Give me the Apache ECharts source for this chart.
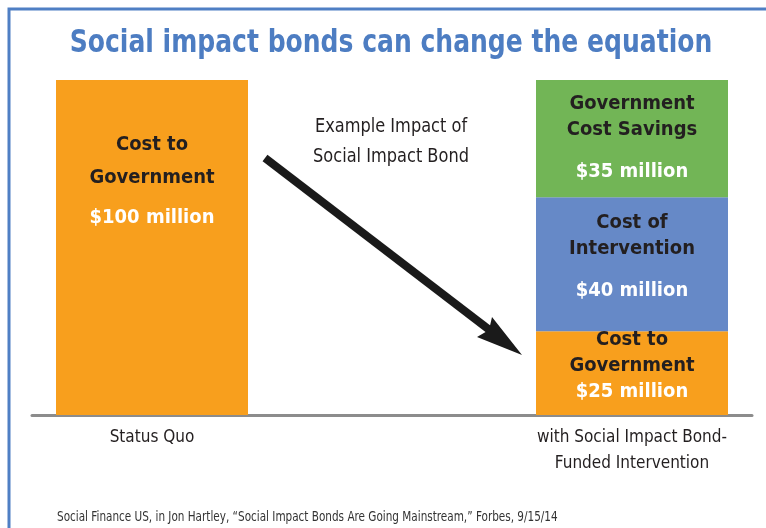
<!DOCTYPE html>
<html>
<head>
<meta charset="utf-8">
<script src="https://cdn.jsdelivr.net/npm/echarts@6/dist/echarts.min.js"></script>
<style>
html,body{margin:0;padding:0;background:#fff;}
#main{width:766px;height:528px;}
</style>
</head>
<body>
<div id="main"></div>
<script>
// ---- data ----
var categories = ['Status Quo', '', 'with Social Impact Bond-\nFunded Intervention'];
var costToGovernment = [100, '-', 25];
var costOfIntervention = ['-', '-', 40];
var governmentSavings = ['-', '-', 35];
var titleText = 'Social impact bonds can change the equation';
var arrowText = 'Example Impact of\nSocial Impact Bond';
var sourceText = 'Social Finance US, in Jon Hartley, \u201cSocial Impact Bonds Are Going Mainstream,\u201d Forbes, 9/15/14';

var FONT = '"DejaVu Sans Condensed", "Liberation Sans Narrow", "Liberation Sans", sans-serif';
var DARK = '#231f20';

var rich = {
  a: {fontFamily: FONT, fontWeight: 'bold', fontSize: 20, color: DARK, lineHeight: 26, align: 'center'},
  aw: {fontFamily: FONT, fontWeight: 'bold', fontSize: 20, color: DARK, lineHeight: 33, align: 'center'},
  v: {fontFamily: FONT, fontWeight: 'bold', fontSize: 20, color: '#ffffff', lineHeight: 26, align: 'center'},
  vBig: {fontFamily: FONT, fontWeight: 'bold', fontSize: 20, color: '#ffffff', lineHeight: 58, align: 'center'},
  vLeft: {fontFamily: FONT, fontWeight: 'bold', fontSize: 20, color: '#ffffff', lineHeight: 47, align: 'center'}
};

var chart = echarts.init(document.getElementById('main'), null, {renderer: 'canvas'});

var orangeData = costToGovernment.map(function (v, i) {
  if (v === '-') return v;
  if (i === 0) {
    return {value: v, label: {show: true, position: 'insideTop', distance: 48,
      formatter: '{aw|Cost to}\n{aw|Government}\n{vLeft|$' + v + ' million}', rich: rich}};
  }
  return {value: v, label: {show: true, position: 'insideBottom', distance: 10,
    formatter: '{a|Cost to}\n{a|Government}\n{v|$' + v + ' million}', rich: rich}};
});

var option = {
  animation: false,
  backgroundColor: '#ffffff',
  grid: {left: 32, right: 14, top: 80, bottom: 113, containLabel: false},
  xAxis: {
    type: 'category',
    data: categories,
    axisLine: {show: true, lineStyle: {color: '#8c8c8c', width: 3}},
    axisTick: {show: false},
    axisLabel: {
      margin: 10,
      interval: 0,
      fontFamily: FONT,
      fontSize: 17,
      color: DARK,
      lineHeight: 26
    }
  },
  yAxis: {
    type: 'value',
    min: 0,
    max: 100,
    show: false,
    splitLine: {show: false}
  },
  series: [
    {
      name: 'Cost to Government',
      type: 'bar',
      stack: 'total',
      barWidth: 192,
      itemStyle: {color: '#f89f1d'},
      data: orangeData
    },
    {
      name: 'Cost of Intervention',
      type: 'bar',
      stack: 'total',
      barWidth: 192,
      itemStyle: {color: '#6689c7'},
      label: {show: true, position: 'insideTop', distance: 13,
        formatter: function (p) { return '{a|Cost of}\n{a|Intervention}\n{vBig|$' + p.value + ' million}'; },
        rich: rich},
      data: costOfIntervention
    },
    {
      name: 'Government Cost Savings',
      type: 'bar',
      stack: 'total',
      barWidth: 192,
      itemStyle: {color: '#72b556'},
      label: {show: true, position: 'insideTop', distance: 11,
        formatter: function (p) { return '{a|Government}\n{a|Cost Savings}\n{vBig|$' + p.value + ' million}'; },
        rich: rich},
      data: governmentSavings
    }
  ],
  graphic: [
    {type: 'polyline', silent: true, shape: {points: [[9, 600], [9, 9], [800, 9]]},
      style: {stroke: '#4f7fc4', lineWidth: 3, fill: null}, z: 100},
    {type: 'text', x: 391, y: 44, scaleX: 0.87, silent: true,
      style: {text: titleText, fontFamily: FONT, fontWeight: 'bold', fontSize: 32, fill: '#4d7dc2',
        align: 'center', verticalAlign: 'middle'}},
    {type: 'text', x: 391, y: 142, scaleX: 0.9, silent: true,
      style: {text: arrowText, fontFamily: FONT, fontSize: 20, fill: DARK, lineHeight: 30,
        align: 'center', verticalAlign: 'middle'}},
    {type: 'line', silent: true, shape: {x1: 265, y1: 158, x2: 500, y2: 338},
      style: {stroke: '#1a1a1a', lineWidth: 8, lineCap: 'butt'}},
    {type: 'polygon', silent: true,
      shape: {points: [[522, 355], [477, 337], [489, 330], [492, 317]]},
      style: {fill: '#1a1a1a'}},
    {type: 'text', x: 57, y: 517, scaleX: 0.83, silent: true,
      style: {text: sourceText, fontFamily: FONT, fontSize: 14, fill: '#333333',
        align: 'left', verticalAlign: 'middle'}}
  ]
};
chart.setOption(option);
</script>
</body>
</html>
